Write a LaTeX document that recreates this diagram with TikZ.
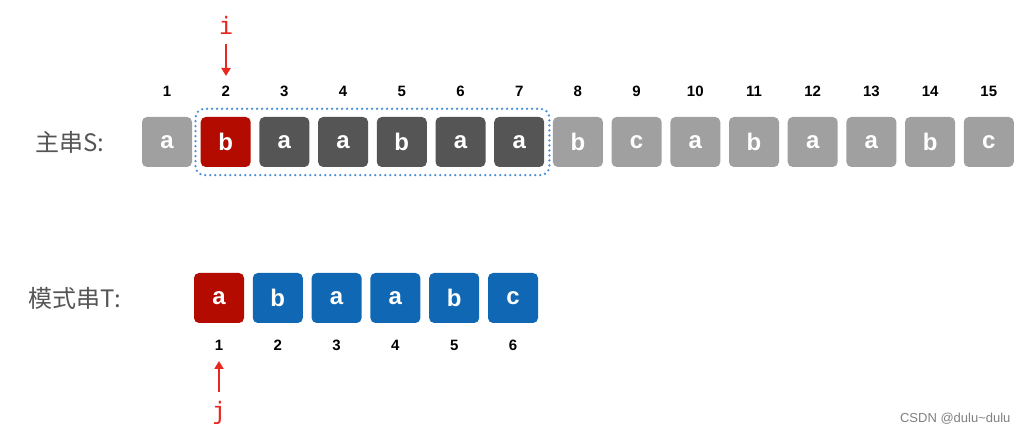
\documentclass[tikz,border=0pt]{standalone}
\usepackage{fontspec}
\setmainfont{Liberation Sans}
\newfontfamily\cjk{Noto Sans CJK SC}
\newfontfamily\mono{DejaVu Sans Mono}
\usetikzlibrary{arrows.meta}
\definecolor{lgray}{HTML}{A0A0A0}
\definecolor{dgray}{HTML}{555555}
\definecolor{cred}{HTML}{B30B00}
\definecolor{cblue}{HTML}{1068B4}
\definecolor{arrred}{HTML}{E8271F}
\definecolor{dotblue}{HTML}{4A8FD6}
\definecolor{labgray}{HTML}{555555}
\tikzset{
  cell/.style={rounded corners=5pt, minimum width=50pt, minimum height=50pt, inner sep=0pt,
    text=white, font=\fontsize{24}{24}\selectfont\bfseries, draw=none},
  lg/.style={cell, fill=lgray},
  dg/.style={cell, fill=dgray},
  rd/.style={cell, fill=cred},
  bl/.style={cell, fill=cblue},
  idx/.style={font=\fontsize{15}{15}\selectfont\bfseries, text=black},
  lab/.style={font=\cjk\fontsize{24}{24}\selectfont, text=labgray},
  ptr/.style={font=\mono\fontsize{24}{24}\selectfont, text=arrred},
  parrow/.style={draw=arrred, line width=2pt, -{Triangle[length=8pt,width=9pt]}}
}
\begin{document}
\begin{tikzpicture}[x=1pt,y=-1pt]
\useasboundingbox (0,0) rectangle (1028,435);
% labels
\node[lab] (ls) at (70,142) {主串S:};
\node[lab] (lt) at (75,298) {模式串T:};
% main string
\foreach \i/\c/\s in {1/a/lg,2/b/rd,3/a/dg,4/a/dg,5/b/dg,6/a/dg,7/a/dg,8/b/lg,9/c/lg,10/a/lg,11/b/lg,12/a/lg,13/a/lg,14/b/lg,15/c/lg}{
  \node[\s] (s\i) at ({167+58.7*(\i-1)},142) {\c};
  \node[idx] (n\i) at ({167+58.7*(\i-1)},91) {\i};
}
% dotted window
\draw[dotblue, line width=2.6pt, dash pattern=on 0pt off 5pt, line cap=round, rounded corners=9pt]
  ([xshift=-5pt,yshift=-8pt]s2.south west) rectangle ([xshift=5pt,yshift=8pt]s7.north east);
% pattern
\foreach \i/\c/\s in {1/a/rd,2/b/bl,3/a/bl,4/a/bl,5/b/bl,6/c/bl}{
  \node[\s] (t\i) at ({219+58.8*(\i-1)},298) {\c};
  \node[idx] (m\i) at ({219+58.8*(\i-1)},345) {\i};
}
% pointers
\node[ptr] (pi) at (226,25) {i};
\coordinate (pia) at (226,44);
\coordinate (pib) at (226,76);
\draw[parrow] (pia) -- (pib);
\node[ptr] (pj) at (219,413) {j};
\coordinate (pja) at (219,392);
\coordinate (pjb) at (219,361);
\draw[parrow] (pja) -- (pjb);
% watermark
\node[font=\fontsize{13}{13}\selectfont, text=gray, anchor=east] (wm) at (1014,419) {CSDN @dulu\textasciitilde dulu};
\end{tikzpicture}
\end{document}
